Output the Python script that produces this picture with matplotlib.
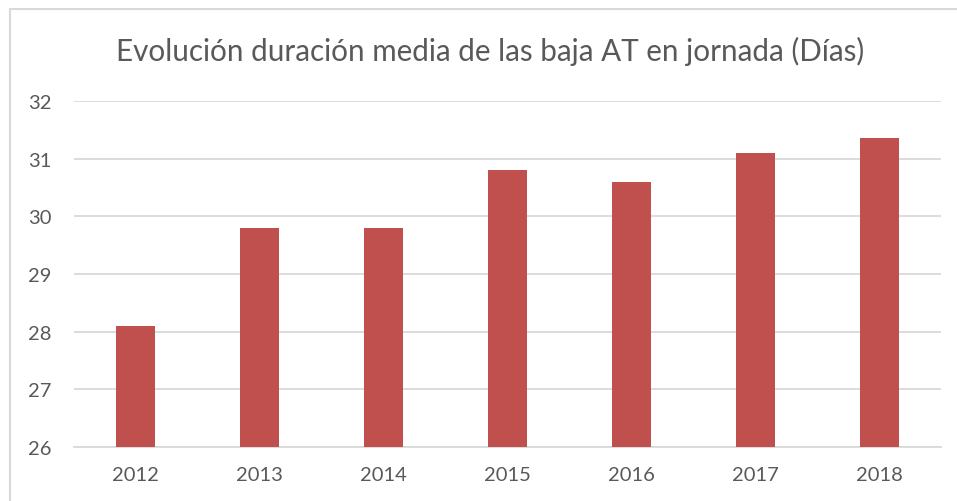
import matplotlib
matplotlib.use('Agg')
import matplotlib.pyplot as plt
from matplotlib.patches import Rectangle

years = ['2012', '2013', '2014', '2015', '2016', '2017', '2018']
dias = [28.1, 29.8, 29.8, 30.8, 30.6, 31.1, 31.36]
y_ticks = [26, 27, 28, 29, 30, 31, 32]

plt.rcParams['font.family'] = ['Lato', 'DejaVu Sans']

W, H = 957, 502
fig = plt.figure(figsize=(W / 100, H / 100), dpi=100)
ax = fig.add_axes([74 / W, 1 - 448 / H, (941 - 74) / W, (448 - 102) / H])

ax.bar(range(len(years)), dias, width=0.315, color='#c0504d', bottom=0,
       zorder=3)
ax.set_xlim(-0.5, len(years) - 0.5)
ax.set_ylim(26, 32)
ax.set_yticks(y_ticks)
ax.set_xticks(range(len(years)))
ax.set_xticklabels(years)
ax.grid(axis='y', color='#d9d9d9', linewidth=1.3, zorder=0)
for s in ['top', 'right', 'left']:
    ax.spines[s].set_visible(False)
ax.spines['bottom'].set_color('#d9d9d9')
ax.spines['bottom'].set_linewidth(1.3)
ax.tick_params(length=0, labelsize=14.5, labelcolor='#595959')
ax.tick_params(axis='y', pad=16)
ax.tick_params(axis='x', pad=14)

fig.text(490 / W, 1 - 51 / H, 'Evolución duración media de las baja AT en jornada (Días)',
         ha='center', va='center', fontsize=21.3, color='#595959')

# chart frame (cropped on the right and bottom)
fig.patches.append(Rectangle((9.5 / W, -0.1), 1.2, 1 - 9.5 / H + 0.1,
                             transform=fig.transFigure, fill=False,
                             edgecolor='#d9d9d9', linewidth=1.5))

fig.savefig('out.png', dpi=100)
